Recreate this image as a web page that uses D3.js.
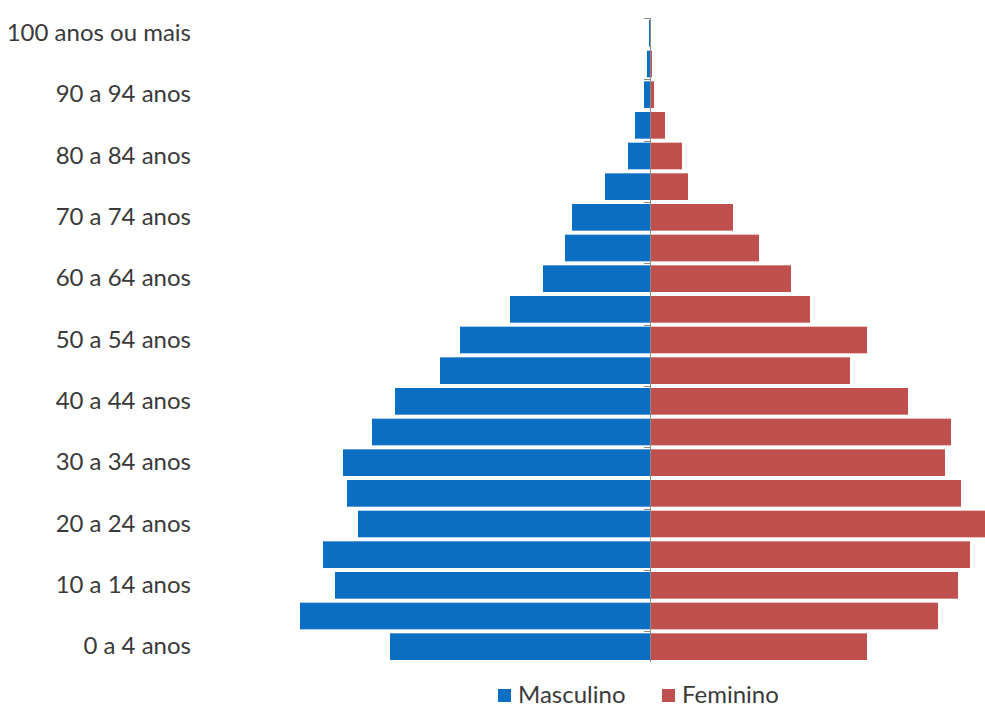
<!DOCTYPE html>
<html>
<head>
<meta charset="utf-8">
<script src="https://cdn.jsdelivr.net/npm/d3@7"></script>
<style>
  html, body { margin: 0; padding: 0; background: #ffffff; }
  svg { display: block; }
</style>
</head>
<body>
<svg id="chart" width="985" height="707"></svg>
<script>
// Age groups, youngest first
const ageGroups = [
  "0 a 4 anos", "5 a 9 anos", "10 a 14 anos", "15 a 19 anos", "20 a 24 anos",
  "25 a 29 anos", "30 a 34 anos", "35 a 39 anos", "40 a 44 anos", "45 a 49 anos",
  "50 a 54 anos", "55 a 59 anos", "60 a 64 anos", "65 a 69 anos", "70 a 74 anos",
  "75 a 79 anos", "80 a 84 anos", "85 a 89 anos", "90 a 94 anos", "95 a 99 anos",
  "100 anos ou mais"
];

// Population by age group
const masculino = [260, 350, 315, 327, 292, 303, 307, 278, 255, 210,
                   190, 140, 107, 85, 78, 45, 22, 15, 6, 3, 1];
const feminino  = [217, 288, 308, 320, 335, 311, 295, 301, 258, 200,
                   217, 160, 141, 109, 83, 38, 32, 15, 4, 2, 0.5];

// Only every other age group gets a label
const labelledGroups = ageGroups.filter((d, i) => i % 2 === 0);

const seriesNames = ["Masculino", "Feminino"];
const colors = { Masculino: "#0a6fc2", Feminino: "#c0504d" };

(function draw() {
  const svg = d3.select("#chart");
  const centerX = 650;
  const plotTop = 18, plotBottom = 662;
  const font = "Lato, 'Open Sans', sans-serif";
  const fontSize = 24;
  const textColor = "#3a3a3a";

  const y = d3.scaleBand()
    .domain(ageGroups.slice().reverse())
    .range([plotTop, plotBottom])
    .paddingInner(0.13)
    .paddingOuter(0.065);

  const x = d3.scaleLinear().domain([0, 350]).range([0, 350]);

  const rows = ageGroups.map((g, i) => ({ group: g, m: masculino[i], f: feminino[i] }));

  // Male bars extend left of the centre line
  svg.append("g").selectAll("rect")
    .data(rows)
    .join("rect")
    .attr("x", d => centerX - x(d.m))
    .attr("y", d => y(d.group))
    .attr("width", d => x(d.m))
    .attr("height", y.bandwidth())
    .attr("fill", colors.Masculino);

  // Female bars extend right
  svg.append("g").selectAll("rect")
    .data(rows)
    .join("rect")
    .attr("x", centerX)
    .attr("y", d => y(d.group))
    .attr("width", d => x(d.f))
    .attr("height", y.bandwidth())
    .attr("fill", colors.Feminino);

  // Central category axis line with ticks every two groups
  const axisG = svg.append("g").attr("stroke", "#8c8c8c").attr("stroke-width", 1);
  axisG.append("line")
    .attr("x1", centerX + 0.5).attr("x2", centerX + 0.5)
    .attr("y1", plotTop).attr("y2", plotBottom);
  const tickYs = d3.range(0, ageGroups.length + 1, 2)
    .map(k => plotTop + (plotBottom - plotTop) * k / ageGroups.length);
  axisG.selectAll("line.tick")
    .data(tickYs)
    .join("line")
    .attr("class", "tick")
    .attr("x1", centerX - 6).attr("x2", centerX + 0.5)
    .attr("y1", d => Math.round(d) + 0.5).attr("y2", d => Math.round(d) + 0.5);

  // Age labels on the left
  const labelAxis = d3.axisLeft(y).tickValues(labelledGroups).tickSize(0).tickPadding(0);
  const lg = svg.append("g").attr("transform", "translate(191,0)").call(labelAxis);
  lg.select(".domain").remove();
  lg.selectAll("text")
    .attr("font-family", font)
    .attr("font-size", fontSize)
    .attr("fill", textColor);

  // Legend
  const legend = svg.append("g")
    .attr("font-family", font).attr("font-size", fontSize).attr("fill", textColor);
  const legendX = [498, 662];
  seriesNames.forEach((name, i) => {
    const g = legend.append("g").attr("transform", `translate(${legendX[i]},0)`);
    g.append("rect").attr("x", 0).attr("y", 689).attr("width", 13).attr("height", 13).attr("fill", colors[name]);
    g.append("text").attr("x", 20).attr("y", 703).text(name);
  });
})();
</script>
</body>
</html>
